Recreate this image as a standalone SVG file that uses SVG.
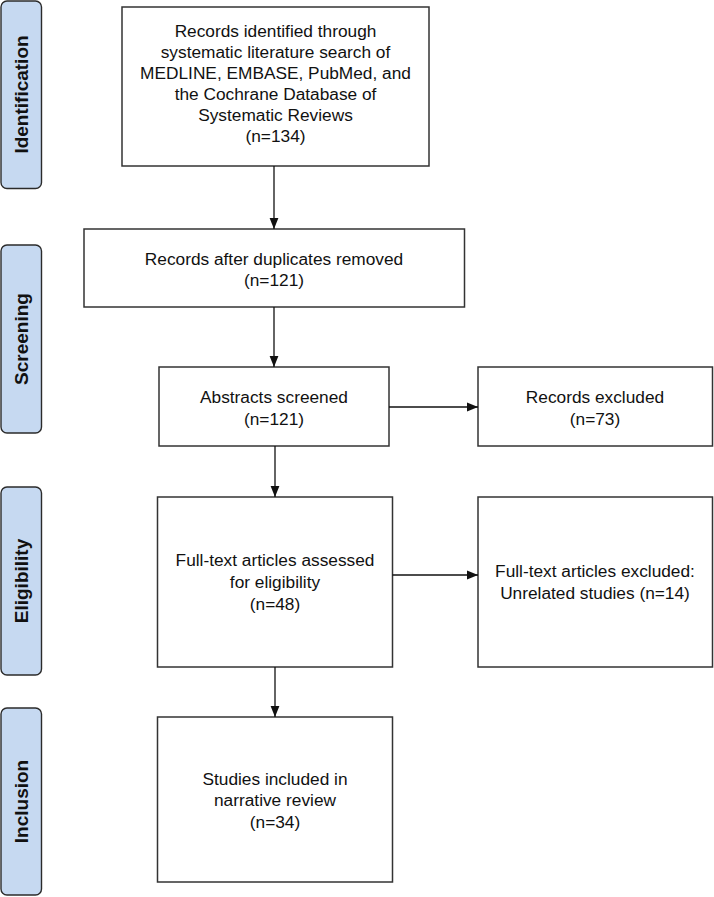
<svg xmlns="http://www.w3.org/2000/svg" width="714" height="897" viewBox="0 0 714 897">
<style>
.stage{fill:#c6d9f1;stroke:#2b2b2b;stroke-width:1.4}
.box{fill:#ffffff;stroke:#333333;stroke-width:1.5}
.t{font-family:"Liberation Sans",Arial,sans-serif;font-size:17.3px;fill:#111111;text-anchor:middle}
.s{font-family:"Liberation Sans",Arial,sans-serif;font-size:19px;font-weight:bold;fill:#111111;text-anchor:middle}
.c{stroke:#111111;stroke-width:1.3;fill:none;marker-end:url(#ah)}
</style>
<defs>
<marker id="ah" viewBox="0 0 10 10" refX="10" refY="5" markerWidth="11" markerHeight="11" markerUnits="userSpaceOnUse" orient="auto">
<path d="M0,1 L10,5 L0,9 Z" fill="#111111"/>
</marker>
</defs>
<rect width="714" height="897" fill="#ffffff"/>
<g id="stage-identification"><rect class="stage" x="1" y="1" width="40.5" height="187.5" rx="6"/><text class="s" transform="translate(27.5,94.5) rotate(-90)">Identification</text></g>
<g id="stage-screening"><rect class="stage" x="1" y="245" width="40.5" height="188" rx="6"/><text class="s" transform="translate(27.5,339) rotate(-90)">Screening</text></g>
<g id="stage-eligibility"><rect class="stage" x="1" y="487" width="40.5" height="188" rx="6"/><text class="s" transform="translate(27.5,581) rotate(-90)">Eligibility</text></g>
<g id="stage-inclusion"><rect class="stage" x="1" y="708" width="40.5" height="187" rx="6"/><text class="s" transform="translate(27.5,801.5) rotate(-90)">Inclusion</text></g>
<g id="n-identified"><rect class="box" x="122" y="7" width="307" height="159"/>
<text class="t" x="275.5" y="37">Records identified through</text>
<text class="t" x="275.5" y="58">systematic literature search of</text>
<text class="t" x="275.5" y="79">MEDLINE, EMBASE, PubMed, and</text>
<text class="t" x="275.5" y="100">the Cochrane Database of</text>
<text class="t" x="275.5" y="121">Systematic Reviews</text>
<text class="t" x="275.5" y="142">(n=134)</text></g>
<g id="n-dedup"><rect class="box" x="84" y="229" width="380.5" height="78"/>
<text class="t" x="274" y="265">Records after duplicates removed</text>
<text class="t" x="274" y="286">(n=121)</text></g>
<g id="n-abstracts"><rect class="box" x="159" y="367" width="230" height="79"/>
<text class="t" x="274" y="403">Abstracts screened</text>
<text class="t" x="274" y="425">(n=121)</text></g>
<g id="n-excluded"><rect class="box" x="478" y="367" width="234.5" height="79"/>
<text class="t" x="595" y="403">Records excluded</text>
<text class="t" x="595" y="425">(n=73)</text></g>
<g id="n-fulltext"><rect class="box" x="157.5" y="497" width="235" height="170"/>
<text class="t" x="275" y="566">Full-text articles assessed</text>
<text class="t" x="275" y="588">for eligibility</text>
<text class="t" x="275" y="610">(n=48)</text></g>
<g id="n-ftexcluded"><rect class="box" x="478" y="497" width="234.5" height="170"/>
<text class="t" x="595" y="577">Full-text articles excluded:</text>
<text class="t" x="595" y="599">Unrelated studies (n=14)</text></g>
<g id="n-included"><rect class="box" x="157.5" y="717" width="235" height="165"/>
<text class="t" x="275" y="785">Studies included in</text>
<text class="t" x="275" y="806">narrative review</text>
<text class="t" x="275" y="828">(n=34)</text></g>
<g id="connectors">
<path class="c" d="M274,166 V229"/>
<path class="c" d="M274,307 V367"/>
<path class="c" d="M389,407 H478"/>
<path class="c" d="M275,446 V497"/>
<path class="c" d="M392.5,575 H478"/>
<path class="c" d="M275,667 V717"/>
</g>
</svg>
